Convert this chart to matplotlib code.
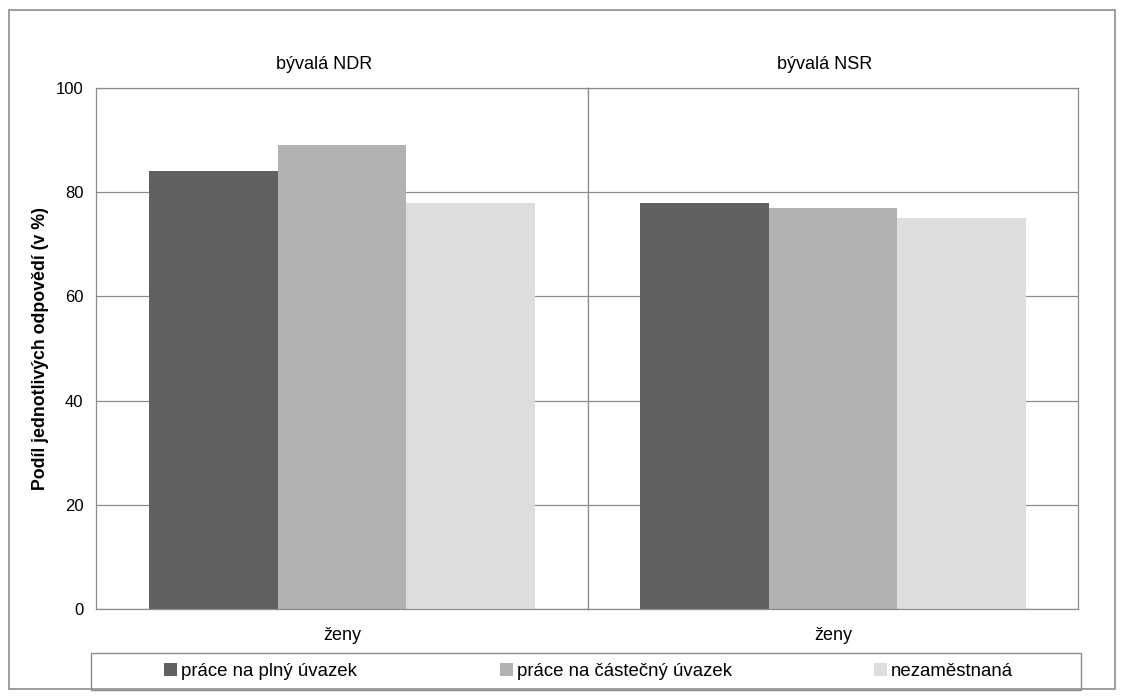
import matplotlib.pyplot as plt
from matplotlib.patches import Patch, Rectangle

plt.rcParams['font.family'] = ['Liberation Sans', 'DejaVu Sans']

panels = ['bývalá NDR', 'bývalá NSR']
category = 'ženy'
series = ['práce na plný úvazek', 'práce na částečný úvazek', 'nezaměstnaná']
values_ndr = [84, 89, 78]
values_nsr = [78, 77, 75]
colors = ['#606060', '#b2b2b2', '#dddddd']
yticks = [0, 20, 40, 60, 80, 100]

W, H = 1125, 697
fig = plt.figure(figsize=(W / 100, H / 100), dpi=100)

# outer frame
fig.patches.append(Rectangle((9 / W, 1 - 689 / H), 1106 / W, 679 / H,
                             transform=fig.transFigure, fill=False,
                             edgecolor='#8c8c8c', linewidth=1.2))

bottom = 1 - 609 / H
height = (609 - 88) / H
ax1 = fig.add_axes([96 / W, bottom, (588 - 96) / W, height])
ax2 = fig.add_axes([588 / W, bottom, (1078 - 588) / W, height], sharey=ax1)

grid_c = '#8c8c8c'
bw = 0.262
title_x = [0.463, 0.482]
for ax, vals, title, tx in zip([ax1, ax2], [values_ndr, values_nsr], panels, title_x):
    for i, (v, c) in enumerate(zip(vals, colors)):
        ax.bar(0.5 + (i - 1) * bw, v, width=bw, color=c, zorder=2)
    ax.set_xlim(0, 1)
    ax.set_ylim(0, 100)
    ax.set_yticks(yticks)
    ax.yaxis.grid(True, color=grid_c, linewidth=0.9, zorder=0)
    ax.set_xticks([0.5])
    ax.set_xticklabels([category], fontsize=13)
    ax.tick_params(length=0, pad=13, axis='x')
    ax.tick_params(length=0, pad=9, axis='y', labelsize=12)
    for s in ax.spines.values():
        s.set_color(grid_c)
        s.set_linewidth(0.9)
    ax.set_title(title, fontsize=13, pad=14, x=tx)

ax2.tick_params(axis='y', labelleft=False)
ax1.set_ylabel('Podíl jednotlivých odpovědí (v %)', fontsize=12.8,
               fontweight='bold', labelpad=5)

# legend box
fig.patches.append(Rectangle((91 / W, 1 - 690 / H), (1081 - 91) / W, 37 / H,
                             transform=fig.transFigure, fill=False,
                             edgecolor='#8c8c8c', linewidth=1.0))
legend_x = [164, 500, 874]
for x, lab, c in zip(legend_x, series, colors):
    fig.legend(handles=[Patch(facecolor=c, label=lab)], loc='center left',
               bbox_to_anchor=(x / W, 1 - 671.5 / H), frameon=False,
               fontsize=13.4, handlelength=0.72, handleheight=0.72,
               handletextpad=0.17, borderpad=0, borderaxespad=0)

plt.savefig('out.png', dpi=100)
